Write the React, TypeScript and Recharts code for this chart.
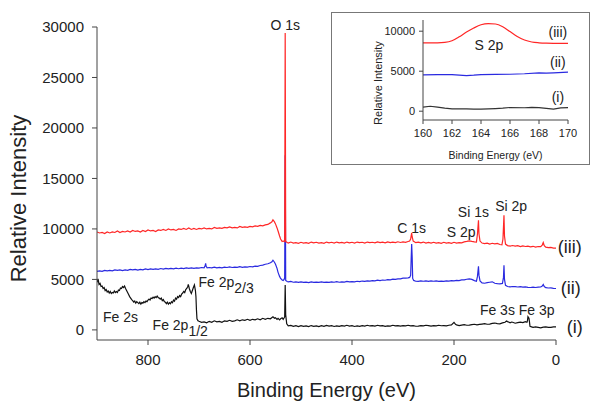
import { LineChart, Line, XAxis, YAxis, ReferenceDot, Label } from 'recharts';

const FONT = '"Liberation Sans", Arial, sans-serif';
const RED = '#ff2626';
const BLUE = '#2a2ae0';
const BLACK = '#111111';

// survey spectra: [binding energy (eV), intensity]
const surveyIII: [number, number][] = [
  [900, 9700], [895, 9600], [890, 9650], [885, 9550], [880, 9700], [875, 9600], [870, 9700],
  [865, 9650], [860, 9800], [855, 9650], [850, 9750], [845, 9700], [840, 9800], [835, 9700],
  [830, 9850], [825, 9750], [820, 9800], [815, 9700], [810, 9850], [805, 9750], [800, 9900],
  [795, 9800], [790, 9850], [785, 9750], [780, 9900], [775, 9850], [770, 9950], [765, 9850],
  [760, 10000], [755, 9900], [750, 9950], [745, 9850], [740, 10000], [735, 9950], [730, 10050],
  [725, 9950], [720, 10100], [715, 9950], [710, 10050], [705, 9950], [700, 10050], [695, 10000],
  [690, 10100], [685, 10000], [680, 10050], [675, 10000], [670, 10150], [665, 10050], [660, 10100],
  [655, 10050], [650, 10150], [645, 10100], [640, 10200], [635, 10100], [630, 10150], [625, 10100],
  [620, 10250], [615, 10150], [610, 10200], [605, 10150], [600, 10250], [595, 10200], [590, 10300],
  [585, 10250], [580, 10350], [575, 10300], [570, 10400], [565, 10450], [560, 10600], [557, 10700],
  [555, 10900], [552, 10700], [550, 10500], [547, 10100], [545, 9800], [542, 9300], [540, 9000],
  [537, 8750], [535, 8800], [533, 8750], [532, 8900], [531, 29400], [530, 8750], [527, 8650],
  [525, 8600], [520, 8700], [515, 8600], [510, 8650], [505, 8580], [500, 8680], [495, 8600],
  [490, 8650], [485, 8580], [480, 8700], [475, 8620], [470, 8680], [465, 8600], [460, 8650],
  [455, 8580], [450, 8700], [445, 8620], [440, 8680], [435, 8600], [430, 8700], [425, 8620],
  [420, 8660], [415, 8600], [410, 8700], [405, 8620], [400, 8680], [395, 8600], [390, 8700],
  [385, 8640], [380, 8680], [375, 8600], [370, 8700], [365, 8640], [360, 8680], [355, 8620],
  [350, 8720], [345, 8640], [340, 8700], [335, 8630], [330, 8720], [325, 8650], [320, 8700],
  [315, 8640], [310, 8730], [305, 8660], [300, 8720], [295, 8680], [290, 8760], [287, 8800],
  [285, 9000], [283, 9600], [282, 9200], [280, 8800], [277, 8700], [275, 8650], [270, 8700],
  [265, 8620], [260, 8700], [255, 8600], [250, 8660], [245, 8600], [240, 8680], [235, 8600],
  [230, 8650], [225, 8580], [220, 8680], [215, 8600], [210, 8650], [205, 8580], [200, 8680],
  [195, 8600], [190, 8650], [185, 8620], [180, 8720], [175, 8760], [170, 8820], [165, 8760],
  [160, 8720], [156, 8700], [154, 9500], [152, 10850], [151, 9500], [149, 8800], [145, 8600],
  [140, 8550], [135, 8600], [130, 8500], [125, 8580], [120, 8520], [115, 8560], [110, 8460],
  [106, 8420], [104, 9000], [102, 11350], [101, 9300], [99, 8500], [95, 8350], [90, 8300],
  [85, 8360], [80, 8300], [75, 8340], [70, 8250], [65, 8320], [60, 8260], [55, 8300], [50, 8230],
  [45, 8280], [40, 8200], [35, 8260], [30, 8250], [27, 8400], [25, 8650], [23, 8350], [20, 8200],
  [15, 8150], [10, 8180], [5, 8100], [0, 8100],
];

const surveyII: [number, number][] = [
  [900, 5800], [895, 5850], [890, 5800], [885, 5900], [880, 5850], [875, 5900], [870, 5850],
  [865, 5950], [860, 5900], [855, 5950], [850, 5880], [845, 5950], [840, 5900], [835, 6000],
  [830, 5950], [825, 6000], [820, 5920], [815, 6000], [810, 5950], [805, 6050], [800, 5980],
  [795, 6050], [790, 6000], [785, 6050], [780, 6000], [775, 6080], [770, 6020], [765, 6100],
  [760, 6050], [755, 6100], [750, 6050], [745, 6120], [740, 6060], [735, 6120], [730, 6080],
  [725, 6150], [720, 6100], [715, 6150], [710, 6100], [705, 6150], [700, 6120], [695, 6180],
  [690, 6150], [688, 6350], [687, 6600], [686, 6300], [684, 6150], [680, 6180], [675, 6150],
  [670, 6220], [665, 6150], [660, 6200], [655, 6150], [650, 6220], [645, 6180], [640, 6250],
  [635, 6180], [630, 6220], [625, 6200], [620, 6260], [615, 6200], [610, 6250], [605, 6220],
  [600, 6280], [595, 6250], [590, 6320], [585, 6300], [580, 6380], [575, 6420], [570, 6500],
  [565, 6550], [560, 6650], [557, 6750], [555, 6900], [552, 6700], [550, 6500], [547, 6100],
  [545, 5700], [542, 5300], [540, 5100], [537, 4950], [535, 4900], [533, 5000], [532, 5200],
  [531, 17300], [530, 4900], [527, 4800], [525, 4750], [520, 4800], [515, 4720], [510, 4760],
  [505, 4700], [500, 4760], [495, 4700], [490, 4740], [485, 4680], [480, 4760], [475, 4700],
  [470, 4740], [465, 4700], [460, 4760], [455, 4700], [450, 4740], [445, 4700], [440, 4760],
  [435, 4720], [430, 4780], [425, 4720], [420, 4760], [415, 4740], [410, 4800], [405, 4750],
  [400, 4780], [395, 4760], [390, 4820], [385, 4780], [380, 4840], [375, 4800], [370, 4860],
  [365, 4840], [360, 4880], [355, 4860], [350, 4920], [345, 4880], [340, 4940], [335, 4920],
  [330, 4980], [325, 4960], [320, 5020], [315, 5000], [310, 5060], [305, 5060], [300, 5120],
  [295, 5120], [290, 5160], [287, 5200], [285, 5400], [284, 7000], [283, 8500], [282, 7200],
  [281, 5100], [279, 4900], [275, 4820], [270, 4800], [265, 4860], [260, 4820], [255, 4860],
  [250, 4800], [245, 4850], [240, 4820], [235, 4860], [230, 4800], [225, 4840], [220, 4800],
  [215, 4860], [210, 4840], [205, 4880], [200, 4850], [195, 4900], [190, 4880], [185, 4950],
  [180, 4950], [175, 5020], [170, 5060], [165, 5000], [160, 4880], [156, 4820], [154, 5300],
  [152, 6300], [151, 5400], [149, 4850], [145, 4650], [140, 4620], [135, 4680], [130, 4720],
  [125, 4760], [120, 4620], [115, 4580], [110, 4560], [105, 4600], [103, 5200], [102, 6400],
  [101, 5000], [99, 4420], [95, 4300], [90, 4260], [85, 4300], [80, 4280], [75, 4250], [70, 4280],
  [65, 4230], [60, 4260], [55, 4220], [50, 4200], [45, 4230], [40, 4200], [35, 4240], [30, 4250],
  [27, 4350], [25, 4500], [23, 4300], [20, 4180], [15, 4150], [10, 4170], [5, 4120], [0, 4100],
];

const surveyI: [number, number][] = [
  [900, 4700], [898, 5050], [896, 4500], [894, 4600], [892, 4300], [890, 4350], [888, 4100],
  [886, 4200], [884, 3900], [882, 4000], [880, 3750], [878, 3850], [876, 3650], [874, 3800],
  [872, 3600], [870, 3700], [868, 3650], [866, 3850], [864, 3700], [862, 3800], [860, 3700],
  [858, 3950], [856, 3900], [854, 4150], [852, 4100], [850, 4300], [848, 4200], [846, 4350],
  [844, 4100], [842, 3900], [840, 3700], [838, 3500], [836, 3300], [834, 3150], [832, 3000],
  [830, 2900], [828, 2750], [826, 2850], [824, 2650], [822, 2800], [820, 2700], [818, 2600],
  [816, 2750], [814, 2550], [812, 2700], [810, 2650], [808, 2800], [806, 2700], [804, 2850],
  [802, 2800], [800, 2950], [798, 3050], [796, 2950], [794, 3150], [792, 3100], [790, 3250],
  [788, 3150], [786, 3300], [784, 3200], [782, 3350], [780, 3200], [778, 3150], [776, 3050],
  [774, 3150], [772, 2900], [770, 3000], [768, 2800], [766, 2750], [764, 2600], [762, 2750],
  [760, 2550], [758, 2700], [756, 2600], [754, 2800], [752, 2700], [750, 2950], [748, 2850],
  [746, 3150], [744, 3050], [742, 3300], [740, 3200], [738, 3400], [736, 3300], [734, 3550],
  [732, 3650], [730, 3800], [728, 3700], [726, 4000], [724, 4100], [722, 4300], [721, 4500],
  [719, 4100], [717, 3800], [715, 3600], [713, 3900], [711, 4200], [709, 4450], [707, 3900],
  [706, 3300], [705, 2000], [704, 1100], [702, 900], [700, 850], [695, 750], [690, 800],
  [685, 700], [680, 850], [675, 750], [670, 900], [665, 800], [660, 850], [655, 750], [650, 900],
  [645, 850], [640, 950], [635, 850], [630, 900], [625, 1000], [620, 900], [615, 1000], [610, 950],
  [605, 1050], [600, 950], [595, 1050], [590, 1000], [585, 1100], [580, 1000], [575, 1150],
  [570, 1050], [565, 1150], [560, 1100], [555, 1300], [552, 1150], [550, 1200], [547, 1050],
  [545, 1150], [542, 1000], [540, 1100], [537, 1200], [535, 1050], [533, 1200], [532, 1300],
  [531, 4450], [530, 1500], [528, 600], [525, 400], [520, 450], [515, 350], [510, 420], [505, 330],
  [500, 420], [495, 350], [490, 400], [485, 330], [480, 430], [475, 360], [470, 400], [465, 330],
  [460, 420], [455, 360], [450, 450], [445, 380], [440, 420], [435, 340], [430, 400], [425, 350],
  [420, 430], [415, 380], [410, 460], [405, 380], [400, 420], [395, 340], [390, 400], [385, 350],
  [380, 420], [375, 380], [370, 460], [365, 390], [360, 420], [355, 380], [350, 460], [345, 400],
  [340, 430], [335, 360], [330, 400], [325, 380], [320, 460], [315, 400], [310, 430], [305, 380],
  [300, 420], [295, 400], [290, 460], [285, 400], [280, 430], [275, 360], [270, 380], [265, 420],
  [260, 400], [255, 460], [250, 420], [245, 380], [240, 430], [235, 400], [230, 460], [225, 410],
  [220, 430], [215, 400], [210, 460], [205, 500], [200, 750], [197, 550], [195, 500], [190, 420],
  [185, 480], [180, 520], [175, 460], [170, 480], [165, 520], [160, 560], [155, 500], [150, 540],
  [145, 580], [140, 620], [135, 560], [130, 580], [125, 640], [120, 680], [115, 620], [110, 600],
  [105, 700], [100, 760], [97, 880], [95, 820], [92, 760], [90, 700], [87, 780], [85, 760],
  [80, 660], [75, 720], [70, 760], [65, 720], [60, 820], [57, 760], [56, 900], [55, 1300],
  [53, 1150], [52, 800], [51, 350], [48, 300], [45, 250], [40, 300], [35, 250], [30, 200],
  [25, 280], [20, 300], [15, 260], [10, 250], [5, 300], [0, 300],
];

// inset: S 2p region
const sulfurIII: [number, number][] = [
  [160, 8550], [160.5, 8550], [161, 8550], [161.5, 8600], [162, 8800], [162.5, 9300], [163, 9900],
  [163.5, 10400], [164, 10800], [164.5, 10950], [165, 10900], [165.5, 10550], [166, 9950],
  [166.5, 9350], [167, 8900], [167.5, 8650], [168, 8550], [168.5, 8500], [169, 8480],
  [169.5, 8480], [170, 8480],
];

const sulfurII: [number, number][] = [
  [160, 4550], [161, 4560], [162, 4560], [163, 4450], [163.5, 4500], [164, 4580], [165, 4600],
  [166, 4620], [167, 4680], [168, 4800], [168.5, 4750], [169, 4800], [170, 4880],
];

const sulfurI: [number, number][] = [
  [160, 500], [160.5, 620], [161, 520], [161.5, 380], [162, 280], [163, 300], [163.5, 260],
  [164, 270], [165, 330], [165.5, 380], [166, 460], [167, 430], [167.5, 480], [168, 440],
  [168.5, 350], [169, 260], [169.5, 420], [170, 450],
];

const mainXTicks = [0, 200, 400, 600, 800];
const mainYTicks = [0, 5000, 10000, 15000, 20000, 25000, 30000];
const insetXTicks = [160, 162, 164, 166, 168, 170];
const insetYTicks = [0, 5000, 10000];

const toPoints = (rows: [number, number][]) => rows.map(([e, v]) => ({ e, v }));

interface NoteProps {
  cx?: number;
  cy?: number;
  text: string;
  sub?: string;
  size?: number;
  anchor?: 'start' | 'middle' | 'end';
}

function Note({ cx, cy, text, sub, size = 14, anchor = 'middle' }: NoteProps) {
  return (
    <text
      x={cx}
      y={cy}
      textAnchor={anchor}
      dominantBaseline="central"
      fontSize={size}
      fontFamily={FONT}
      fill="#222"
    >
      {text}
      {sub && <tspan dy={6}>{sub}</tspan>}
    </text>
  );
}

const note = (text: string, opts: Partial<NoteProps> = {}) => (p: any) => (
  <Note cx={p.cx} cy={p.cy} text={text} {...opts} />
);

const tickStyle = { fontSize: 15, fill: '#222', fontFamily: FONT };
const insetTick = { fontSize: 11, fill: '#222', fontFamily: FONT };

export default function App() {
  return (
    <div style={{ position: 'absolute', left: 0, top: 0, width: 600, height: 414, background: '#fff' }}>
      <LineChart width={600} height={414} margin={{ top: 27, right: 44, bottom: 14, left: 0 }}>
        <XAxis
          type="number"
          dataKey="e"
          domain={[0, 900]}
          reversed
          allowDataOverflow
          ticks={mainXTicks}
          height={60}
          tickSize={5}
          tickMargin={9}
          stroke="#444"
          tick={tickStyle}
        >
          <Label
            value="Binding Energy (eV)"
            position="insideBottom"
            offset={3}
            fontSize={20}
            fontFamily={FONT}
            fill="#222"
          />
        </XAxis>
        <YAxis
          type="number"
          dataKey="v"
          domain={[-1000, 30000]}
          allowDataOverflow
          ticks={mainYTicks}
          width={97}
          tickSize={5}
          tickMargin={8}
          stroke="#444"
          tick={tickStyle}
        >
          <Label
            value="Relative Intensity"
            position="insideLeft"
            angle={-90}
            offset={18}
            dy={15}
            fontSize={22}
            fontFamily={FONT}
            fill="#222"
            style={{ textAnchor: 'middle' }}
          />
        </YAxis>
        <Line data={toPoints(surveyI)} dataKey="v" stroke={BLACK} strokeWidth={1.2} dot={false} isAnimationActive={false} />
        <Line data={toPoints(surveyII)} dataKey="v" stroke={BLUE} strokeWidth={1.2} dot={false} isAnimationActive={false} />
        <Line data={toPoints(surveyIII)} dataKey="v" stroke={RED} strokeWidth={1.2} dot={false} isAnimationActive={false} />

        <ReferenceDot x={531} y={30200} r={0} ifOverflow="visible" shape={note('O 1s')} />
        <ReferenceDot x={283} y={10100} r={0} ifOverflow="visible" shape={note('C 1s')} />
        <ReferenceDot x={186} y={9700} r={0} ifOverflow="visible" shape={note('S 2p')} />
        <ReferenceDot x={162} y={11700} r={0} ifOverflow="visible" shape={note('Si 1s')} />
        <ReferenceDot x={88} y={12300} r={0} ifOverflow="visible" shape={note('Si 2p')} />
        <ReferenceDot x={76} y={2000} r={0} ifOverflow="visible" shape={note('Fe 3s Fe 3p')} />
        <ReferenceDot x={854} y={1300} r={0} ifOverflow="visible" shape={note('Fe 2s')} />
        <ReferenceDot x={701} y={4750} r={0} ifOverflow="visible" shape={note('Fe 2p', { sub: '2/3', anchor: 'start' })} />
        <ReferenceDot x={791} y={500} r={0} ifOverflow="visible" shape={note('Fe 2p', { sub: '1/2', anchor: 'start' })} />
        <ReferenceDot x={-27} y={8200} r={0} ifOverflow="visible" shape={note('(iii)', { size: 18 })} />
        <ReferenceDot x={-29} y={4150} r={0} ifOverflow="visible" shape={note('(ii)', { size: 18 })} />
        <ReferenceDot x={-37} y={300} r={0} ifOverflow="visible" shape={note('(i)', { size: 18 })} />
      </LineChart>

      <div
        style={{
          position: 'absolute',
          left: 331,
          top: 12,
          width: 259,
          height: 153,
          boxSizing: 'border-box',
          border: '1.5px solid #777',
          background: '#fff',
        }}
      />
      <div style={{ position: 'absolute', left: 332, top: 13 }}>
        <LineChart width={257} height={151} margin={{ top: 7, right: 21, bottom: 0, left: 0 }}>
          <XAxis
            type="number"
            dataKey="e"
            domain={[160, 170]}
            allowDataOverflow
            ticks={insetXTicks}
            height={44}
            tickSize={4}
            tickMargin={5}
            stroke="#444"
            tick={insetTick}
          >
            <Label
              value="Binding Energy (eV)"
              position="insideBottom"
              offset={5}
              fontSize={10.5}
              fontFamily={FONT}
              fill="#222"
            />
          </XAxis>
          <YAxis
            type="number"
            dataKey="v"
            domain={[-1100, 11400]}
            allowDataOverflow
            ticks={insetYTicks}
            width={91}
            tickSize={4}
            tickMargin={4}
            stroke="#444"
            tick={insetTick}
          >
            <Label
              value="Relative Intensity"
              position="insideLeft"
              angle={-90}
              offset={46}
              dy={13}
              fontSize={11}
              fontFamily={FONT}
              fill="#222"
              style={{ textAnchor: 'middle' }}
            />
          </YAxis>
          <Line data={toPoints(sulfurI)} dataKey="v" stroke="#333" strokeWidth={1.2} dot={false} isAnimationActive={false} />
          <Line data={toPoints(sulfurII)} dataKey="v" stroke={BLUE} strokeWidth={1.2} dot={false} isAnimationActive={false} />
          <Line data={toPoints(sulfurIII)} dataKey="v" stroke={RED} strokeWidth={1.2} dot={false} isAnimationActive={false} type="monotone" />

          <ReferenceDot x={164.55} y={8250} r={0} ifOverflow="visible" shape={note('S 2p', { size: 14 })} />
          <ReferenceDot x={169.3} y={9875} r={0} ifOverflow="visible" shape={note('(iii)', { size: 14 })} />
          <ReferenceDot x={169.3} y={6125} r={0} ifOverflow="visible" shape={note('(ii)', { size: 14 })} />
          <ReferenceDot x={169.3} y={1750} r={0} ifOverflow="visible" shape={note('(i)', { size: 14 })} />
        </LineChart>
      </div>
    </div>
  );
}
